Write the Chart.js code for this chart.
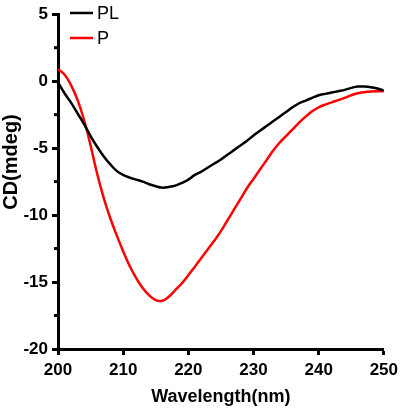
<!DOCTYPE html>
<html>
<head>
<meta charset="utf-8">
<script src="https://cdn.jsdelivr.net/npm/chart.js@4/dist/chart.umd.min.js"></script>
<style>
html,body{margin:0;padding:0;background:#fff;}
canvas{display:block;}
</style>
</head>
<body>
<canvas id="c" width="403" height="411"></canvas>
<script>
const wavelengths = [200,201,202,203,204,205,206,207,208,209,210,211,212,213,214,215,216,217,218,219,220,221,222,223,224,225,226,227,228,229,230,231,232,233,234,235,236,237,238,239,240,241,242,243,244,245,246,247,248,249,250];
const seriesPL = [-0.1,-0.9,-1.6,-2.4,-3.2,-4.1,-4.9,-5.6,-6.2,-6.7,-7.0,-7.2,-7.35,-7.5,-7.7,-7.85,-7.95,-7.9,-7.8,-7.6,-7.35,-7.0,-6.75,-6.45,-6.15,-5.85,-5.5,-5.15,-4.8,-4.45,-4.05,-3.7,-3.35,-3.0,-2.65,-2.3,-1.95,-1.65,-1.45,-1.25,-1.05,-0.95,-0.85,-0.75,-0.65,-0.5,-0.4,-0.4,-0.45,-0.55,-0.7];
const seriesP = [0.9,0.5,-0.3,-1.4,-2.9,-4.8,-6.9,-8.7,-10.2,-11.5,-12.7,-13.8,-14.7,-15.45,-16.0,-16.35,-16.4,-16.1,-15.6,-15.1,-14.5,-13.85,-13.2,-12.55,-11.9,-11.2,-10.4,-9.6,-8.8,-8.0,-7.3,-6.6,-5.9,-5.2,-4.6,-4.1,-3.6,-3.1,-2.65,-2.25,-1.95,-1.75,-1.58,-1.42,-1.25,-1.05,-0.9,-0.82,-0.77,-0.75,-0.75];
const seriesNames = ['PL','P'];
const xTicks = [200,210,220,230,240,250];
const yTicks = [5,0,-5,-10,-15,-20];

const FONT = '"Liberation Sans",Arial,sans-serif';

const pts = arr => wavelengths.map((w,i)=>({x:w,y:arr[i]}));

const extras = {
  id:'extras',
  afterDraw(chart){
    const ctx = chart.ctx;
    const ys = chart.scales.y;
    const left = chart.chartArea.left;
    ctx.save();
    // minor ticks on y
    ctx.strokeStyle = '#000'; ctx.lineWidth = 3;
    for (let v = -17.5; v < 5; v += 5) {
      const py = ys.getPixelForValue(v);
      ctx.beginPath(); ctx.moveTo(left-4, py); ctx.lineTo(left, py); ctx.stroke();
    }
    // legend
    const ds = chart.data.datasets;
    ds.forEach((d,i)=>{
      const y = 13 + i*25;
      ctx.strokeStyle = d.borderColor; ctx.lineWidth = 2.5;
      ctx.beginPath(); ctx.moveTo(70,y); ctx.lineTo(93,y); ctx.stroke();
      ctx.fillStyle = '#000';
      ctx.font = '18px ' + FONT;
      ctx.textBaseline = 'middle'; ctx.textAlign = 'left';
      ctx.fillText(d.label, 97, y+1);
    });
    // axis titles
    ctx.fillStyle = '#000';
    ctx.font = 'bold 18px ' + FONT;
    ctx.textAlign = 'center'; ctx.textBaseline = 'alphabetic';
    ctx.fillText('Wavelength(nm)', (chart.chartArea.left+chart.chartArea.right)/2, 402);
    ctx.translate(17, 162);
    ctx.rotate(-Math.PI/2);
    ctx.font = 'bold 20px ' + FONT;
    ctx.fillText('CD(mdeg)', 0, 0);
    ctx.restore();
  }
};

new Chart(document.getElementById('c'), {
  type:'line',
  data:{
    datasets:[
      {label:seriesNames[0], data:pts(seriesPL), borderColor:'#000000', borderWidth:2.5, pointRadius:0, tension:0.4, fill:false},
      {label:seriesNames[1], data:pts(seriesP), borderColor:'#ff0000', borderWidth:2.5, pointRadius:0, tension:0.4, fill:false}
    ]
  },
  options:{
    responsive:false,
    animation:false,
    layout:{padding:{left:0,right:15,top:12,bottom:0}},
    plugins:{legend:{display:false}, tooltip:{enabled:false}},
    scales:{
      x:{
        type:'linear', min:200, max:250,
        afterBuildTicks(s){ s.ticks = xTicks.map(v=>({value:v})); },
        afterFit(s){ s.height = 62; },
        border:{display:true, color:'#000', width:3},
        grid:{display:true, drawOnChartArea:false, tickLength:6, tickWidth:3, tickColor:'#000'},
        ticks:{color:'#000', padding:5, font:{family:FONT, size:17, weight:'bold'}, maxRotation:0}
      },
      y:{
        type:'linear', min:-20, max:5,
        afterBuildTicks(s){ s.ticks = yTicks.map(v=>({value:v})); },
        afterFit(s){ s.width = 58; },
        border:{display:true, color:'#000', width:3},
        grid:{display:true, drawOnChartArea:false, tickLength:6, tickWidth:3, tickColor:'#000'},
        ticks:{color:'#000', padding:4, font:{family:FONT, size:17, weight:'bold'}}
      }
    }
  },
  plugins:[extras]
});
</script>
</body>
</html>
